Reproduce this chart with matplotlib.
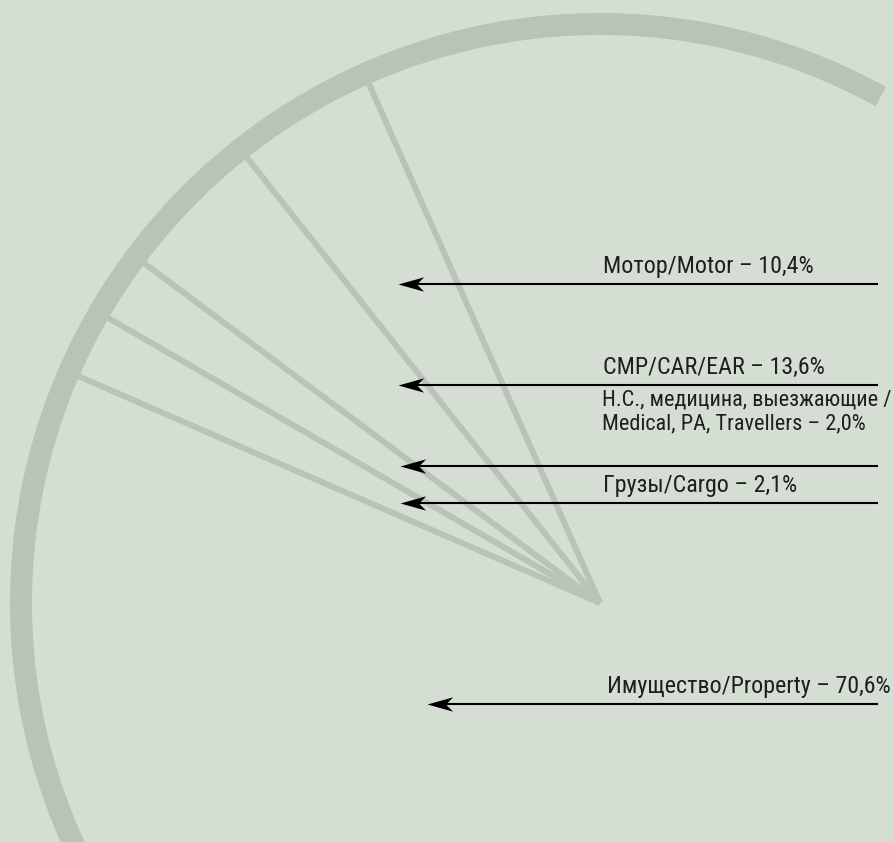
import matplotlib
matplotlib.use("Agg")
import matplotlib.pyplot as plt
import numpy as np
from matplotlib.patches import Wedge
from matplotlib.path import Path

# categories and shares (premium structure)
names = ["Мотор/Motor", "CMP/CAR/EAR",
         "Н.С., медицина, выезжающие /\nMedical, PA, Travellers",
         "Грузы/Cargo", "Имущество/Property"]
shares = [10.4, 13.6, 2.0, 2.1, 70.6]

# fan divider angles (degrees, counter-clockwise from east)
divider_angles = [114.0, 128.4, 143.3, 149.9, 156.5]

# layout (pixels, y from top)
W, H = 894, 842
cx, cy = 600, 603
r_out, ring_w = 590, 22
arc_from, arc_to = 61, 255
arrow_y = [284, 385, 466, 503, 704]
arrow_tip = [398, 398, 400, 400, 427]
arrow_end = 877
label_x = [603, 603, 602, 603, 607]
label_size = [17.3, 17.3, 16, 17.3, 17.3]

bg = "#d5ded3"
ring = "#b9c3b7"

plt.rcParams["font.family"] = ["Liberation Sans Narrow", "Roboto Condensed",
                               "DejaVu Sans"]
plt.rcParams["font.stretch"] = "condensed"

fig = plt.figure(figsize=(W / 100, H / 100), dpi=100, facecolor=bg)
ax = fig.add_axes([0, 0, 1, 1])
ax.set_xlim(0, W)
ax.set_ylim(H, 0)
ax.set_facecolor(bg)
ax.axis("off")

# outer ring (y axis is flipped, so angles go negative)
ax.add_patch(Wedge((cx, cy), r_out, -arc_to, -arc_from, width=ring_w,
                   facecolor=ring, edgecolor="none"))

# dividers from centre to ring
for a in divider_angles:
    t = np.deg2rad(a)
    r = r_out - ring_w / 2
    ax.plot([cx, cx + r * np.cos(t)], [cy, cy - r * np.sin(t)],
            color=ring, lw=4.3, solid_capstyle="butt", zorder=1)

# stealth arrow head, tip at origin pointing left
head = Path([(0, 0), (1, 0.28), (0.72, 0), (1, -0.28), (0, 0)],
            [Path.MOVETO, Path.LINETO, Path.LINETO, Path.LINETO, Path.CLOSEPOLY])

for name, s, y, tip, lx, fs in zip(names, shares, arrow_y, arrow_tip,
                                   label_x, label_size):
    ax.plot([tip + 10, arrow_end], [y, y], color="black", lw=1.5, zorder=3)
    ax.plot([tip], [y], marker=head, markersize=37, color="black",
            markeredgewidth=0, zorder=4)
    pct = f"{s:.1f}".replace(".", ",")
    txt = f"{name} – {pct}%"
    nlines = txt.count("\n") + 1
    ax.text(lx, y - 11 - 26 * (nlines - 1), txt, fontsize=fs,
            color="#1e1e1e", ha="left", va="baseline", linespacing=1.15)

fig.savefig("out.png", dpi=100, facecolor=bg)
